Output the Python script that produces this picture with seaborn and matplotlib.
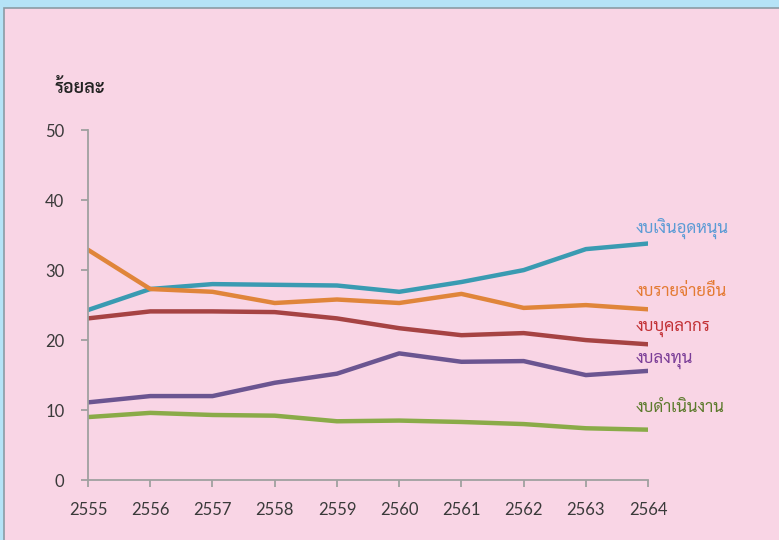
import matplotlib
matplotlib.use('Agg')
import matplotlib.pyplot as plt
import matplotlib.patches as mpatches
import pandas as pd
import seaborn as sns

# budget share (%) by fiscal year
years = [2555, 2556, 2557, 2558, 2559, 2560, 2561, 2562, 2563, 2564]
subsidy = [24.3, 27.3, 28.0, 27.9, 27.8, 26.9, 28.3, 30.0, 33.0, 33.8]
other = [32.9, 27.3, 26.9, 25.3, 25.8, 25.3, 26.6, 24.6, 25.0, 24.4]
personnel = [23.1, 24.1, 24.1, 24.0, 23.1, 21.7, 20.7, 21.0, 20.0, 19.4]
invest = [11.1, 12.0, 12.0, 13.9, 15.2, 18.1, 16.9, 17.0, 15.0, 15.6]
operating = [9.0, 9.6, 9.3, 9.2, 8.4, 8.5, 8.3, 8.0, 7.4, 7.2]

names = ['งบเงินอุดหนุน', 'งบรายจ่ายอื่น', 'งบบุคลากร', 'งบลงทุน', 'งบดำเนินงาน']
line_colors = ['#3A9BB2', '#E0853A', '#A64343', '#6B5591', '#8AAB48']
text_colors = ['#5B9BD5', '#E47A32', '#C23034', '#7A3D97', '#5C7A2C']
label_y = [33.7, 25.2, 19.9, 15.3, 8.5]

rows = []
for name, vals in zip(names, [subsidy, other, personnel, invest, operating]):
    for y, v in zip(years, vals):
        rows.append({'year': y, 'pct': v, 'type': name})
df = pd.DataFrame(rows)

sns.set_style('ticks')
plt.rcParams['font.family'] = ['Sarabun', 'DejaVu Sans']

fig = plt.figure(figsize=(7.79, 5.40), dpi=100)
fig.patch.set_facecolor('#B5E3F7')
fig.patches.append(mpatches.Rectangle((0.005, -0.01), 1.0, 0.995, transform=fig.transFigure,
                                      facecolor='#F9D5E5', edgecolor='#8C9BA5', linewidth=1.2,
                                      zorder=-5))
ax = fig.add_axes([0.113, 0.111, 0.719, 0.648])
ax.set_facecolor('none')

sns.lineplot(data=df, x='year', y='pct', hue='type', palette=line_colors, linewidth=3.2,
             legend=False, ax=ax)

ax.set_xlim(2555, 2564)
ax.set_ylim(0, 50)
ax.set_xticks(years)
ax.set_yticks([0, 10, 20, 30, 40, 50])
ax.set_xlabel('')
ax.set_ylabel('')
for s in ['top', 'right']:
    ax.spines[s].set_visible(False)
for s in ['left', 'bottom']:
    ax.spines[s].set_color('#A0A0A0')
    ax.spines[s].set_linewidth(1.3)
ax.tick_params(axis='both', colors='#A0A0A0', length=5, width=1.3, labelcolor='#3A3A3A',
               labelsize=12)
ax.tick_params(axis='y', pad=12)
ax.tick_params(axis='x', pad=11)
for lab in ax.get_xticklabels() + ax.get_yticklabels():
    lab.set_family('Lato')

for name, c, ly in zip(names, text_colors, label_y):
    ax.text(2564 - 0.2, ly + 0.6, name, color=c, fontsize=12, ha='left', va='bottom')

fig.text(0.070, 0.827, 'ร้อยละ', fontsize=13, fontweight='semibold', color='#222222')

fig.savefig('out.png', dpi=100, facecolor=fig.get_facecolor())
